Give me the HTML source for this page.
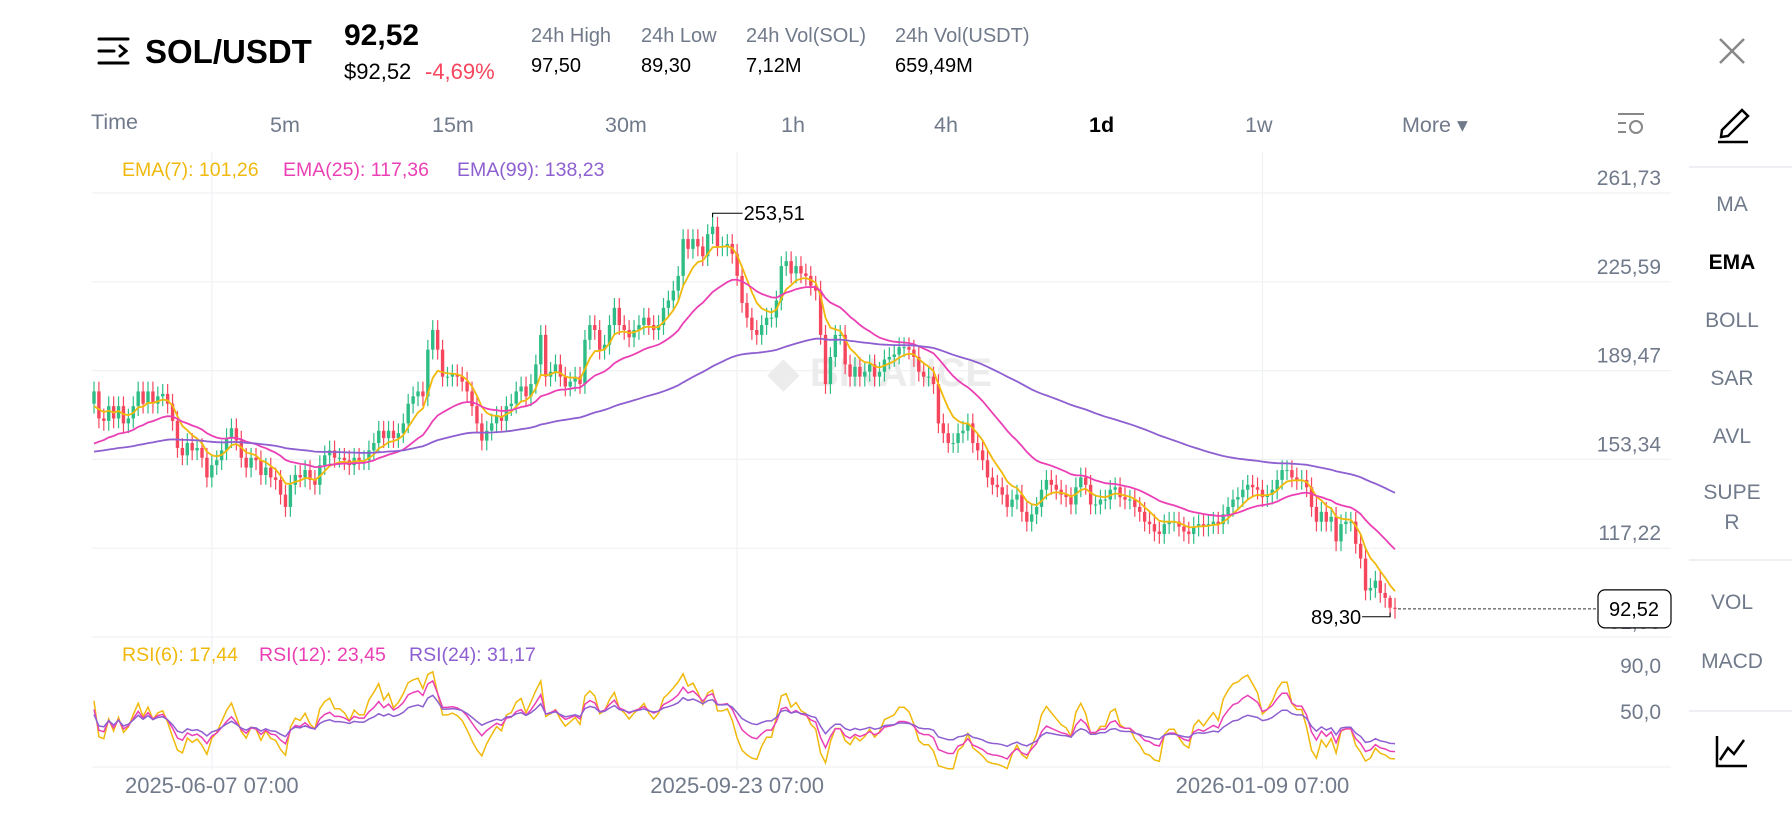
<!DOCTYPE html>
<html><head><meta charset="utf-8"><style>
html,body{margin:0;padding:0;background:#fff;width:1792px;height:828px;overflow:hidden;font-family:"Liberation Sans",sans-serif;}
svg text{font-family:"Liberation Sans",sans-serif;}
</style></head><body>
<svg id="c" width="1792" height="828" xmlns="http://www.w3.org/2000/svg">
  <g stroke="#000" stroke-width="3" stroke-linecap="round" fill="none">
    <line x1="99" y1="39" x2="128" y2="39"/><line x1="99" y1="51" x2="114" y2="51"/><line x1="99" y1="63" x2="128" y2="63"/>
    <polyline points="120,46 126,51 120,56"/>
  </g>
  <text x="145" y="63" font-size="33" font-weight="bold" fill="#000">SOL/USDT</text>
  <text x="344" y="45" font-size="30" font-weight="bold" fill="#000">92,52</text>
  <text x="344" y="79" font-size="22" fill="#000">$92,52</text>
  <text x="425" y="79" font-size="22" fill="#f6465d">-4,69%</text>
  <g font-size="20">
    <text x="531" y="42" fill="#707a8a">24h High</text>
    <text x="531" y="72" fill="#000">97,50</text>
    <text x="641" y="42" fill="#707a8a">24h Low</text>
    <text x="641" y="72" fill="#000">89,30</text>
    <text x="746" y="42" fill="#707a8a">24h Vol(SOL)</text>
    <text x="746" y="72" fill="#000">7,12M</text>
    <text x="895" y="42" fill="#707a8a">24h Vol(USDT)</text>
    <text x="895" y="72" fill="#000">659,49M</text>
  </g>
  <g stroke="#888" stroke-width="2.5"><line x1="1720" y1="39" x2="1744" y2="63"/><line x1="1744" y1="39" x2="1720" y2="63"/></g>
  <g font-size="21.5" fill="#707a8a">
    <text x="91" y="129">Time</text>
    <text x="270" y="132">5m</text>
    <text x="432" y="132">15m</text>
    <text x="605" y="132">30m</text>
    <text x="781" y="132">1h</text>
    <text x="934" y="132">4h</text>
    <text x="1089" y="132" fill="#000" font-weight="bold">1d</text>
    <text x="1245" y="132">1w</text>
    <text x="1402" y="132">More ▾</text>
  </g>
  <g stroke="#888" stroke-width="2" fill="none">
    <line x1="1618" y1="114" x2="1644" y2="114"/><line x1="1618" y1="123" x2="1626" y2="123"/><line x1="1618" y1="132" x2="1626" y2="132"/>
    <circle cx="1636" cy="127" r="6"/>
  </g>
  <g stroke="#000" stroke-width="2.5" fill="none">
    <path d="M1722,130 L1742,110 L1748,116 L1728,136 L1721,137 Z"/><line x1="1718" y1="142" x2="1748" y2="142"/>
  </g>
  <g stroke="#eaecef" stroke-width="1.5">
    <line x1="1689" y1="167" x2="1792" y2="167"/><line x1="1689" y1="560" x2="1792" y2="560"/><line x1="1689" y1="711" x2="1792" y2="711"/>
  </g>
  <g font-size="21" fill="#707a8a" text-anchor="middle">
    <text x="1732" y="211">MA</text>
    <text x="1732" y="269" fill="#000" font-weight="bold">EMA</text>
    <text x="1732" y="327">BOLL</text>
    <text x="1732" y="385">SAR</text>
    <text x="1732" y="443">AVL</text>
    <text x="1732" y="499">SUPE</text>
    <text x="1732" y="529">R</text>
    <text x="1732" y="609">VOL</text>
    <text x="1732" y="668">MACD</text>
  </g>
  <g stroke="#000" stroke-width="2.5" fill="none">
    <polyline points="1717,736 1717,766 1747,766"/><polyline points="1720,760 1728,748 1734,754 1744,740"/>
  </g>
  <g id="grid" stroke="#f0f1f3" stroke-width="1.2"></g>
  <text x="880" y="386" font-size="40" font-weight="bold" fill="#ececec" text-anchor="middle">◆ BINANCE</text>
  <g id="axisLabels" font-size="21" fill="#707a8a"></g>
  <g id="marks"></g>
  <g font-size="19.5">
    <text x="122" y="176" fill="#f0b90b">EMA(7): 101,26</text>
    <text x="283" y="176" fill="#eb40b5">EMA(25): 117,36</text>
    <text x="457" y="176" fill="#8e5fd0">EMA(99): 138,23</text>
    <text x="122" y="661" fill="#f0b90b">RSI(6): 17,44</text>
    <text x="259" y="661" fill="#eb40b5">RSI(12): 23,45</text>
    <text x="409" y="661" fill="#8e5fd0">RSI(24): 31,17</text>
  </g>
</svg>
<script>
const closes = [181,170,169,175,170,175,168,170,175,181,176,181,176,179,180,176,169,158,155,160,157,158,154,146,151,153,157,162,166,161,154,150,154,153,147,150,146,145,139,134,143,147,146,149,145,143,151,155,157,154,154,153,151,154,153,153,157,160,165,162,165,162,164,168,176,179,181,179,198,206,198,187,187,188,187,185,181,175,168,161,165,168,171,169,175,176,181,183,179,184,192,204,
187,189,192,187,183,185,187,184,202,208,206,198,200,208,215,208,206,203,206,208,211,208,206,208,215,218,222,228,243,239,243,240,236,245,248,240,240,241,237,228,217,211,206,204,208,211,211,218,232,234,229,232,229,228,224,222,204,184,195,204,204,192,187,191,187,189,192,187,189,194,195,196,199,199,198,195,189,187,187,184,168,164,160,160,164,165,168,160,
157,153,146,143,142,139,134,137,139,132,128,131,134,141,145,143,141,139,138,135,142,146,143,135,135,137,137,141,142,138,137,137,134,132,128,127,124,123,127,128,128,126,124,123,126,127,126,127,128,127,131,134,137,138,141,143,142,141,138,139,141,145,149,149,146,145,145,142,134,128,132,128,130,120,127,128,128,119,113,100,101,104,99,97,93,92.52];
const firstOpen = 176;
const emaPeriods = [7,25,99];
const emaSeeds = [173,158,156];
const rsiPeriods = [6,12,24];
const priceTicks = [261.73,225.59,189.47,153.34,117.22,81.08];
const rsiTicks = [90,50];
const dateLabels = ["2025-06-07 07:00","2025-09-23 07:00","2026-01-09 07:00"];
const dateIndex = [24,131,238];
const highMark = 253.51, highIdx = 126;
const lowMark = 89.30, lowIdx = 264;

const NS="http://www.w3.org/2000/svg";
const N=closes.length;
const RIGHT=1671;
const X=i=>94+i*(1395-94)/(N-1);
const Y=p=>193+(261.73-p)*(637-193)/(261.73-81.08);
const RY=v=>674+(90-v)*(766-674)/80;
function mk(tag,attrs,parent){const e=document.createElementNS(NS,tag);for(const k in attrs)e.setAttribute(k,attrs[k]);parent.appendChild(e);return e;}
const grid=document.getElementById('grid'),lab=document.getElementById('axisLabels'),marks=document.getElementById('marks');
priceTicks.forEach((t,k)=>{
  const l=mk('line',{x1:92,x2:RIGHT,y1:Y(t),y2:Y(t)},grid);
  
  
  const tx=mk('text',{x:1661,y:Y(t)-8,'text-anchor':'end'},lab);
  tx.textContent=t.toFixed(2).replace('.',',');
  
  
});
mk('line',{x1:92,x2:RIGHT,y1:767,y2:767},grid);
rsiTicks.forEach(t=>{
  const tx=mk('text',{x:1661,y:RY(t)-1,'text-anchor':'end'},lab);
  tx.textContent=t.toFixed(1).replace('.',',');
  
  
});
dateIndex.forEach((di,k)=>{
  const l=mk('line',{x1:X(di),x2:X(di),y1:152,y2:770},grid);
  
  
  const tx=mk('text',{x:X(di),y:793,'text-anchor':'middle','font-size':22},lab);
  tx.textContent=dateLabels[k];
  
  
});
const cg=mk('g',{},marks);


for(let i=0;i<N;i++){
  const o=i?closes[i-1]:firstOpen,c=closes[i];
  const hi=i===highIdx?highMark:(i===lowIdx?Math.max(o,c)+1:Math.max(o,c)+4);
  const lo=i===lowIdx?lowMark:Math.min(o,c)-4;
  const col=c>=o?'#2ebd85':'#f6465d';
  const w=mk('line',{x1:X(i),x2:X(i),y1:Y(hi),y2:Y(lo),stroke:col,'stroke-width':1.2},cg);
  
  
  const top=Y(Math.max(o,c)),bh=Math.max(1,Y(Math.min(o,c))-top);
  const b=mk('rect',{x:X(i)-1.7,y:top,width:3.4,height:bh,fill:col},cg);
  
  
}
const emaCols=['#f0b90b','#eb40b5','#8e5fd0'];
emaPeriods.forEach((p,k)=>{
  let e=emaSeeds[k];const a=2/(p+1);const pts=[];
  for(let i=0;i<N;i++){e=a*closes[i]+(1-a)*e;pts.push(X(i).toFixed(1)+','+Y(e).toFixed(1));}
  const pl=mk('polyline',{points:pts.join(' '),fill:'none',stroke:emaCols[k],'stroke-width':1.8},marks);
  
  
});
rsiPeriods.forEach((p,k)=>{
  let ag=1,al=1;const pts=[];
  for(let i=0;i<N;i++){
    const d=closes[i]-(i?closes[i-1]:firstOpen);
    ag=(ag*(p-1)+Math.max(d,0))/p;al=(al*(p-1)+Math.max(-d,0))/p;
    const r=100-100/(1+ag/(al||1e-9));
    pts.push(X(i).toFixed(1)+','+RY(r).toFixed(1));
  }
  const pl=mk('polyline',{points:pts.join(' '),fill:'none',stroke:emaCols[k],'stroke-width':1.5},marks);
  
  
});
const hx=X(highIdx),hy=Y(highMark);
const hl=mk('polyline',{points:`${hx},${hy+4} ${hx},${hy} ${hx+30},${hy}`,fill:'none',stroke:'#000','stroke-width':1},marks);


const ht=mk('text',{x:hx+31,y:hy+7,'font-size':20,fill:'#000'},marks);
ht.textContent=highMark.toFixed(2).replace('.',',');


const lx=X(lowIdx),ly=Y(lowMark);
const ll=mk('polyline',{points:`${lx},${ly-4} ${lx},${ly} ${lx-28},${ly}`,fill:'none',stroke:'#000','stroke-width':1},marks);


const lt=mk('text',{x:lx-29,y:ly+7,'font-size':20,fill:'#000','text-anchor':'end'},marks);
lt.textContent=lowMark.toFixed(2).replace('.',',');


const py=Y(closes[N-1]);
const dl=mk('line',{x1:X(N-1)+3,x2:1598,y1:py,y2:py,stroke:'#333','stroke-width':1,'stroke-dasharray':'3,2'},marks);


const bx=mk('rect',{x:1598,y:py-19,width:73,height:38,rx:7,fill:'#fff',stroke:'#000','stroke-width':1.2},marks);


const bt=mk('text',{x:1634,y:py+7,'font-size':20,fill:'#000','text-anchor':'middle'},marks);
bt.textContent=closes[N-1].toFixed(2).replace('.',',');


</script>
</body></html>
